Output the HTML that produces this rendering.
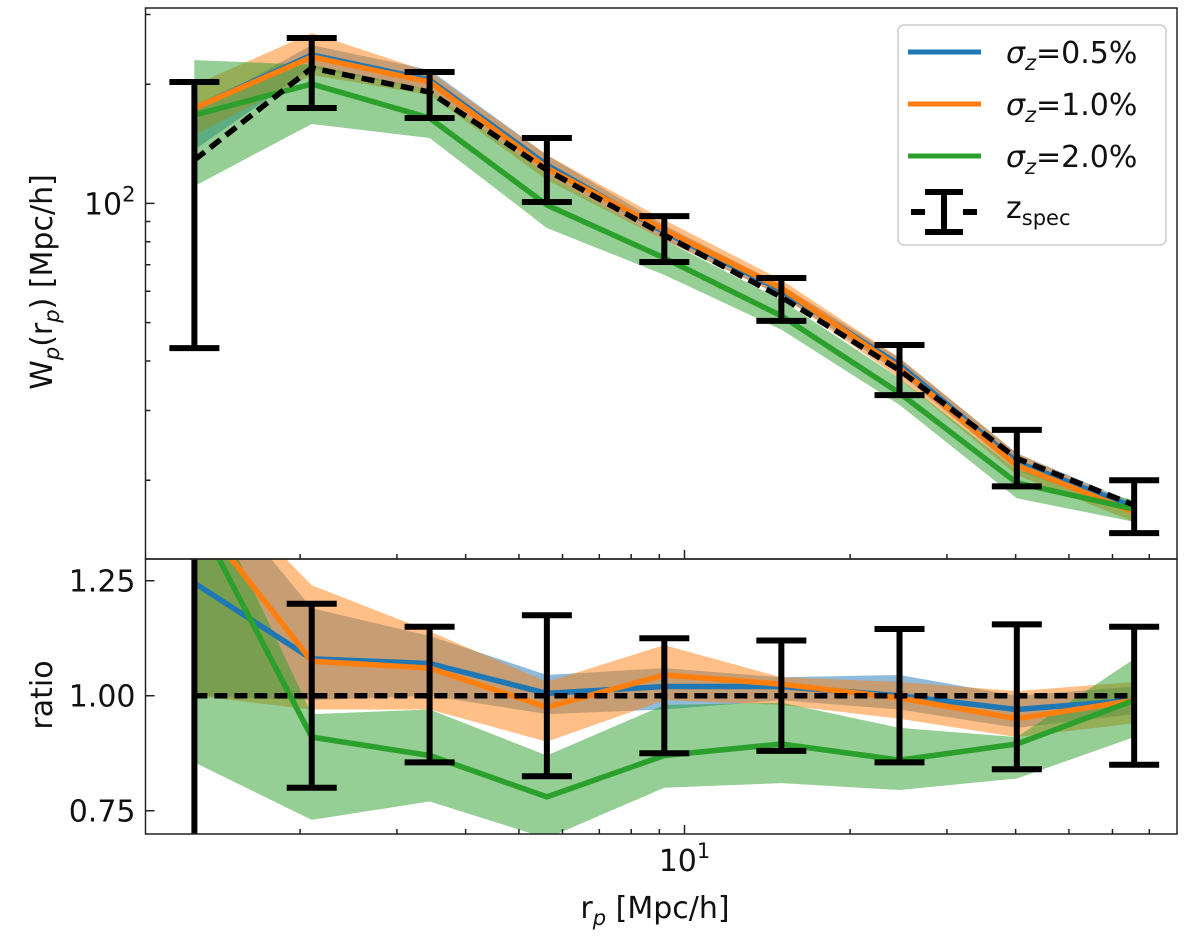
<!DOCTYPE html>
<html><head><meta charset="utf-8"><style>
html,body{margin:0;padding:0;background:#fff;width:1200px;height:942px;overflow:hidden}
svg{display:block;font-family:"DejaVu Sans","Liberation Sans",sans-serif}
</style></head><body>
<svg id="c" width="1200" height="942" viewBox="0 0 1200 942"></svg>
<script>
const rp=[1.285,2.10,3.44,5.62,9.19,15.0,24.6,40.2,65.7];
const wSpec=[128.7,219.7,191,121.4,83.2,58.0,37.9,22.7,17.3];
const wSpecHi=[202.6,261.6,214.7,146.3,92.9,64.8,43.9,26.8,20.0];
const wSpecLo=[43.1,174.1,164.3,100.8,71.1,50.5,32.8,19.3,14.7];
const wBlue=[174,237,205,125,84.7,60.4,39.1,22.2,17.1];
const wBlueHi=[172.2,251,217.4,132.5,88.1,62.2,40.7,23.4,17.5];
const wBlueLo=[136.4,219.7,193.4,118,80.8,58.4,37.3,21.2,16.6];
const wOrange=[174.1,234.3,202.6,122.8,85.7,61.1,38.4,21.8,16.6];
const wOrangeHi=[199,269.4,214.7,132.5,90.8,64.1,40.7,23.4,17.3];
const wOrangeLo=[148.8,211,187.7,114.6,80.8,58.4,36.2,20.6,15.7];
const wGreen=[167.2,200.2,164.3,99.1,72.8,52.0,33.2,19.7,16.9];
const wGreenHi=[230,224,193.4,118,80.8,57.0,36.2,21.2,17.8];
const wGreenLo=[110.6,158.7,146.3,86.7,66.0,48.0,31.0,18.0,15.7];
const rSpecHi=[1.57,1.20,1.15,1.175,1.125,1.12,1.145,1.155,1.15];
const rSpecLo=[0.34,0.80,0.855,0.825,0.875,0.88,0.855,0.84,0.85];
const rBlue=[1.245,1.08,1.07,1.005,1.02,1.02,1.0,0.97,0.99];
const rBlueHi=[1.5,1.19,1.13,1.045,1.06,1.04,1.045,1.0,1.02];
const rBlueLo=[1.0,0.99,1.0,0.96,0.97,0.99,0.97,0.93,0.96];
const rOrange=[1.40,1.075,1.06,0.975,1.045,1.025,0.995,0.95,0.99];
const rOrangeHi=[1.5,1.24,1.14,1.03,1.11,1.04,1.03,1.01,1.03];
const rOrangeLo=[1.0,0.97,0.97,0.90,0.99,0.98,0.95,0.91,0.94];
const rGreen=[1.40,0.91,0.87,0.78,0.87,0.895,0.86,0.895,0.99];
const rGreenHi=[1.5,0.96,0.97,0.87,0.98,0.985,0.93,0.91,1.08];
const rGreenLo=[0.855,0.73,0.77,0.69,0.80,0.81,0.795,0.82,0.91];
const yMinorTicks=[20,30,40,50,60,70,80,90,200,300];
const xMinorTicks=[2,3,4,5,6,7,8,9,20,30,40,50,60,70];
const ratioTicks=[0.75,1.00,1.25];

const L=145.5,R=1177,T1=8,B1=559,B2=834;
const X=v=>684.5+550*(Math.log10(v)-1);
const Y1=v=>203.4-396*(Math.log10(v)-2);
const Y2=v=>695.7-(v-1)*460;
const svg=document.getElementById('c');const NS='http://www.w3.org/2000/svg';
function mk(tag,attrs,parent){const e=document.createElementNS(NS,tag);for(const k in attrs)e.setAttribute(k,attrs[k]);(parent||svg).appendChild(e);return e;}
const defs=mk('defs',{});
const cp1=mk('clipPath',{id:'cp1'},defs);mk('rect',{x:L,y:T1,width:R-L,height:B1-T1},cp1);
const cp2=mk('clipPath',{id:'cp2'},defs);mk('rect',{x:L,y:B1,width:R-L,height:B2-B1},cp2);
const g1=mk('g',{'clip-path':'url(#cp1)'});
const g2=mk('g',{'clip-path':'url(#cp2)'});

function band(g,Y,hi,lo,col,name){
  let d='M'+rp.map((r,i)=>X(r)+','+Y(hi[i])).join('L');
  for(let i=rp.length-1;i>=0;i--)d+='L'+X(rp[i])+','+Y(lo[i]);
  const p=mk('path',{d:d+'Z',fill:col,'fill-opacity':0.5,stroke:'none'},g);
  
  
}
function line(g,Y,vals,col,name,dash){
  const a={d:'M'+rp.map((r,i)=>X(r)+','+Y(vals[i])).join('L'),fill:'none',stroke:col,'stroke-width':5.5,'stroke-linejoin':'round'};
  if(dash)a['stroke-dasharray']=dash;
  const p=mk('path',a,g);
  
  
}
function errs(g,Y,hi,lo,name,ymin,ymax){
  rp.forEach((r,i)=>{const x=X(r);
    const yh=Math.max(ymin,Math.min(ymax,Y(hi[i]))), yl=Math.max(ymin,Math.min(ymax,Y(lo[i])));
    let d=`M${x},${yh}V${yl}`;
    if(Y(hi[i])>=ymin)d+=`M${x-25},${yh}H${x+25}`;
    if(Y(lo[i])<=ymax)d+=`M${x-25},${yl}H${x+25}`;
    const e=mk('path',{d:d,stroke:'#000','stroke-width':6,fill:'none'},g);
    
    
  });
}
band(g1,Y1,wBlueHi,wBlueLo,'#1f77b4','band-sigma-0.5');
band(g1,Y1,wOrangeHi,wOrangeLo,'#ff7f0e','band-sigma-1.0');
band(g1,Y1,wGreenHi,wGreenLo,'#2ca02c','band-sigma-2.0');
line(g1,Y1,wBlue,'#1f77b4','line-sigma-0.5');
line(g1,Y1,wOrange,'#ff7f0e','line-sigma-1.0');
line(g1,Y1,wGreen,'#2ca02c','line-sigma-2.0');
errs(g1,Y1,wSpecHi,wSpecLo,'zspec-errorbar',T1,B1);
line(g1,Y1,wSpec,'#000','line-zspec','13,7');
band(g2,Y2,rBlueHi,rBlueLo,'#1f77b4','ratio-band-sigma-0.5');
band(g2,Y2,rOrangeHi,rOrangeLo,'#ff7f0e','ratio-band-sigma-1.0');
band(g2,Y2,rGreenHi,rGreenLo,'#2ca02c','ratio-band-sigma-2.0');
line(g2,Y2,rBlue,'#1f77b4','ratio-line-sigma-0.5');
line(g2,Y2,rOrange,'#ff7f0e','ratio-line-sigma-1.0');
line(g2,Y2,rGreen,'#2ca02c','ratio-line-sigma-2.0');
errs(g2,Y2,rSpecHi,rSpecLo,'ratio-errorbar',B1,B2);
line(g2,Y2,rp.map(()=>1),'#000','ratio-unity-line','13,7');
mk('rect',{x:L,y:T1,width:R-L,height:B1-T1,fill:'none',stroke:'#222','stroke-width':1.5});
mk('rect',{x:L,y:B1,width:R-L,height:B2-B1,fill:'none',stroke:'#222','stroke-width':1.5});
let td='';
yMinorTicks.forEach(v=>{td+=`M${L},${Y1(v)}h5`;});
td+=`M${L},${Y1(100)}h9`;
xMinorTicks.forEach(v=>{td+=`M${X(v)},${B1}v-5M${X(v)},${B2}v-5`;});
td+=`M${X(10)},${B1}v-9M${X(10)},${B2}v-9`;
ratioTicks.forEach(v=>{td+=`M${L},${Y2(v)}h9`;});
const tk=mk('path',{d:td,stroke:'#222','stroke-width':1.5,fill:'none'});

function txt(x,y,s,attrs,name){const t=mk('text',Object.assign({x:x,y:y,'font-size':30,fill:'#111'},attrs||{}));t.innerHTML=s;return t;}
ratioTicks.forEach(v=>{txt(L-10,Y2(v)+11,v.toFixed(2),{'text-anchor':'end'},'ratio-tick-label');});
txt(L-10,Y1(100)+11,'10<tspan font-size="21" dy="-13">2</tspan>',{'text-anchor':'end'},'y-tick-label-100');
txt(X(10),B2+37,'10<tspan font-size="21" dy="-13">1</tspan>',{'text-anchor':'middle'},'x-tick-label-10');
txt(655,918,'r<tspan font-size="21" dy="7" font-style="italic">p</tspan><tspan dy="-7"> [Mpc/h]</tspan>',{'text-anchor':'middle'},'x-axis-title');
txt(0,0,'W<tspan font-size="21" dy="7" font-style="italic">p</tspan><tspan dy="-7">(r</tspan><tspan font-size="21" dy="7" font-style="italic">p</tspan><tspan dy="-7">) [Mpc/h]</tspan>',{'text-anchor':'middle',transform:'translate(52,282) rotate(-90)'},'y-axis-title');
txt(0,0,'ratio',{'text-anchor':'middle',transform:'translate(52,695) rotate(-90)'},'ratio-axis-title');
const lg=mk('g',{});
mk('rect',{x:898,y:25,width:268,height:220,rx:6,fill:'#fff','fill-opacity':0.8,stroke:'#ccc','stroke-width':1.5},lg);
const legCols=['#1f77b4','#ff7f0e','#2ca02c'];const legLabs=['0.5%','1.0%','2.0%'];
legCols.forEach((c,i)=>{const y=52+i*52;
  const l=mk('line',{x1:908,x2:981,y1:y,y2:y,stroke:c,'stroke-width':5},lg);
  
  const t=txt(1006,y+11,'<tspan font-style="italic">σ</tspan><tspan font-size="21" dy="7" font-style="italic">z</tspan><tspan dy="-7">='+legLabs[i]+'</tspan>',{},'legend-entry');
  lg.appendChild(t);
});
const ly=212;
const ls=mk('path',{d:`M911,${ly}h14M963,${ly}h14M944,${ly-20}v40M925,${ly-20}h38M925,${ly+20}h38`,stroke:'#000','stroke-width':6,fill:'none'},lg);

lg.appendChild(txt(1006,ly+6,'z<tspan font-size="21" dy="7">spec</tspan>',{},'legend-entry-zspec'));
</script>
</body></html>
